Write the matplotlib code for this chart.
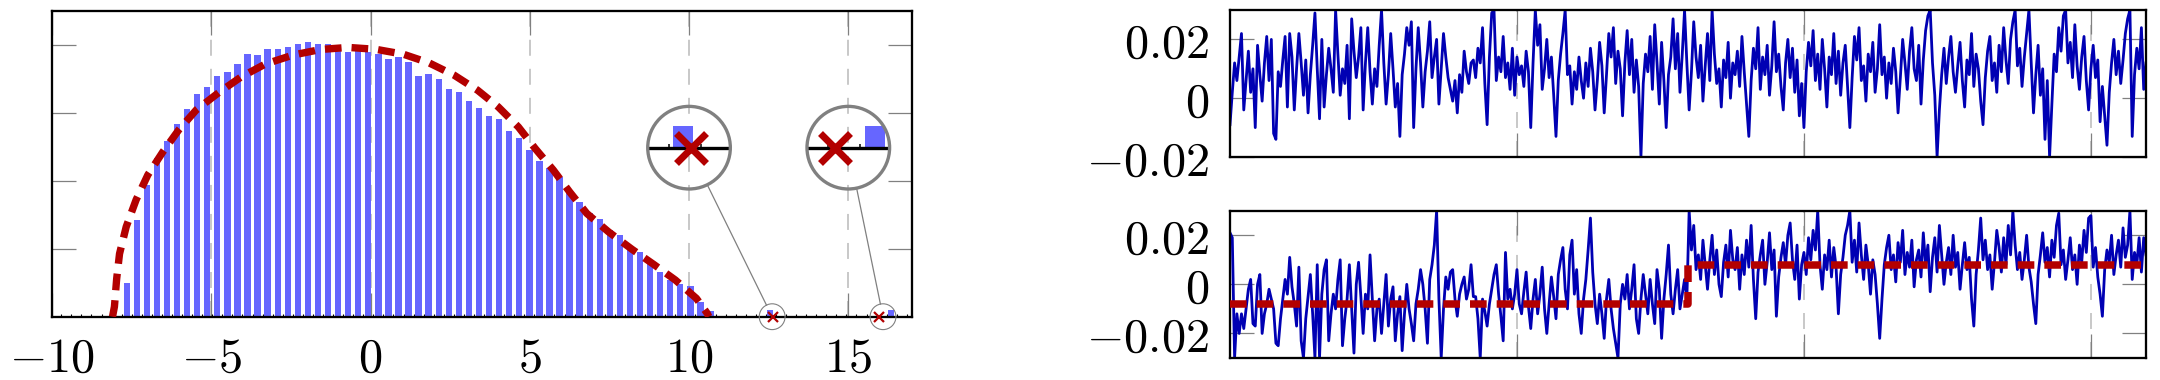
import numpy as np
import matplotlib
matplotlib.use("Agg")
import matplotlib.pyplot as plt
from matplotlib.patches import Circle, Ellipse
from matplotlib.lines import Line2D
from matplotlib.ticker import FixedLocator

plt.rcParams['mathtext.fontset'] = 'cm'
plt.rcParams['lines.scale_dashes'] = False
plt.rcParams['font.family'] = ['DejaVu Sans']

# ---------------- data ----------------
# histogram (left panel): first bin centre, bin spacing and bar heights
hist_first = -7.654
hist_step = 0.316
hist_counts = [24.8, 71.1, 97.1, 116.9, 129.2, 141.7, 152.7, 163.8, 168.9, 177.0,
               179.9, 185.8, 193.2, 192.6, 196.8, 196.8, 198.3, 200.5, 202.0, 200.5,
               200.5, 198.3, 194.9, 199.8, 194.6, 193.4, 189.5, 191.0, 187.3, 177.0,
               178.5, 174.8, 167.4, 165.2, 158.6, 153.5, 147.6, 145.4, 136.5, 131.4,
               122.6, 114.5, 109.1, 102.7, 90.7, 84.3, 76.0, 71.8, 63.8, 60.1,
               51.5, 47.6, 39.7, 32.9, 27.0, 24.3, 22.6, 11.0, 4.2]
# limiting density (red dashed)
pdf_x = [-8.10, -8.04, -7.97, -7.88, -7.67, -7.36, -6.99, -6.52, -6.02, -5.47,
         -4.74, -4.06, -3.30, -2.43, -1.56, -0.70, 0.17, 1.03, 1.84, 2.63,
         3.36, 4.01, 4.64, 5.17, 5.74, 6.25, 6.79, 7.47, 8.21, 8.89,
         9.57, 10.23, 10.57, 10.62]
pdf_y = [0.0, 7.4, 27.9, 46.3, 66.2, 86.0, 104.4, 121.3, 137.5, 152.2,
         165.4, 176.5, 186.0, 192.6, 196.7, 198.2, 196.8, 193.2, 186.8, 177.7,
         166.7, 154.4, 139.7, 123.8, 107.9, 91.9, 76.0, 62.5, 49.6, 38.5,
         27.0, 13.5, 2.5, 0.0]
# isolated eigenvalues: empirical (bars) and predicted (crosses)
outlier_emp_x = [12.55, 16.35]
outlier_emp_h = [5.0, 5.0]
outlier_pred_x = [12.63, 15.96]
# magnifier: spied points and where the magnified view is placed
spy_src_x = [12.61, 16.09]
spy_dst_x = [10.0, 15.0]
spy_dst_y = [124.4, 124.4]
hist_xticks = [-10, -5, 0, 5, 10, 15]
hist_yticks = [50, 100, 150, 200]

# time series (right panels), in units of 1e-3
sig_top = [
    -9, 2, 12, 6, 14, 22, -4, 6, 16, 2, 10, -10, 18, 8, -1, 12, 21, 6, 20, -12,
    -14, 9, 4, 13, 21, -3, 22, 14, -4, 10, 22, 12, 1, 13, -5, 8, 18, 29, 10, -7,
    20, -3, 8, 17, 10, 2, 30, 15, 1, 10, 5, 18, -7, 27, 16, 7, 14, 24, -4, 12,
    24, 9, -2, 10, 4, 18, 30, 12, -2, 8, 22, 10, -3, 5, -13, 8, 15, 24, 18, 26,
    -10, 10, 24, 12, -3, 9, 16, 26, 7, 14, 20, -2, 10, 22, 14, 7, 3, -1, 6, -5,
    8, 2, 16, 9, 5, 12, 13, 7, 17, 12, 24, 5, -9, 14, 29, 30, 6, 14, 9, 21,
    7, 12, 3, 17, 1, 14, 8, 11, 4, 16, 9, -10, 12, 30, 18, 25, 3, 10, 20, 7,
    14, 1, -13, 6, 15, 22, 30, 8, 11, -2, 9, 3, 14, 6, 0, 12, 4, 17, 9, -4,
    6, 19, 11, -5, 8, 22, 14, 24, 5, 16, 10, -6, 12, 23, 8, 20, 2, 13, 4, -20,
    5, 15, 9, 21, 3, 25, 12, -2, 19, 6, -10, 8, 14, 27, 10, 22, 2, 15, 30, 12,
    -4, 9, 26, 14, 7, 18, -1, 11, 22, 6, 30, 15, 5, 10, -3, 13, 7, 19, 0, 12,
    8, 16, 4, 21, 9, -2, -13, 6, 17, 10, 24, 3, 14, 8, 18, 1, 11, 26, 9, 15,
    4, -4, 12, 20, 7, 17, 2, 13, -6, 5, -10, 9, 19, 11, 23, 6, 15, 3, 20, 10,
    -3, 14, 8, 22, 5, 16, 1, 12, 18, 4, -10, 7, 21, 13, 24, 6, 11, -1, 15, 9,
    19, 2, 10, 25, 8, 14, 0, 12, 5, 17, 9, -5, 7, 20, 12, 3, 16, 24, 10, 6,
    18, -2, 13, 23, 28, 30, 12, 1, -20, -4, 8, 17, 5, 14, 21, 9, 2, 11, 19, 6,
    -3, 13, 8, 22, 4, 15, 10, -1, -9, 7, 16, 21, 6, 12, 2, 18, 9, 24, 13, 5,
    20, 26, 30, 11, 17, 4, 14, 22, 30, 12, -5, 8, 18, 1, 10, -14, 6, -20, -2, 15,
    9, 24, 16, 28, 30, 12, 19, 7, 25, 11, 3, 14, 21, 6, -4, 10, 18, 7, 13, -8,
    4, -6, -16, 2, 12, 20, 8, 16, 5, 13, 22, 27, 30, -13, 8, 17, 10, 24, 3, 12]
sig_bot = [
    21, 19, -30, -12, -20, -12, -18, -10, -2, 2, -16, -17, 0, 4, -20, -12, -8, -2, -6, -10,
    -24, -25, -14, -6, 2, -4, 11, -1, -8, -17, 7, -23, -30, -14, -5, 4, -12, -30, 8, -30,
    -4, 6, 10, -23, -12, -4, -10, 2, 10, -25, -14, -6, 8, -10, -28, 0, 9, -5, -20, -4,
    -10, 12, -6, -23, -10, -6, -20, -8, 4, -17, -6, -1, -23, -12, -5, -27, -12, 0, -10, -16,
    -23, -8, -2, 6, 0, -10, -24, 2, 8, 16, 30, -6, -30, -10, 3, -2, 5, 6, -6, -13,
    -4, 0, 3, -6, -2, 8, -5, -5, -14, -30, -6, -11, -17, -8, -2, 4, 8, -4, -13, -23,
    13, -6, -2, -10, -4, 6, -8, -12, -3, 5, -9, -18, -6, 2, -12, -4, 7, -10, -20, -8,
    3, -5, -14, 4, 10, 15, -2, -10, 12, 18, -4, 6, -12, -20, -6, 2, 14, 27, 5, -8,
    -16, -4, -12, -22, -6, 2, -10, -18, -24, -30, -8, 0, -6, 4, -10, -2, 8, -14, -20, -6,
    4, -4, -12, 2, -8, -16, 6, -2, -22, -6, 4, 16, -4, -12, -2, 6, -10, -4, 2, -6,
    30, 14, 24, 6, 12, 2, 18, 8, -2, 10, 20, 4, 14, 0, -5, 9, 16, 3, 22, 10,
    6, 15, -2, 12, 4, 18, 7, 24, 2, -14, 5, 12, 18, 0, 9, 21, 6, 14, -13, 3,
    11, 17, 8, 20, 25, 10, 2, 16, -6, 8, 13, 4, 19, 10, 22, 14, 30, 8, -2, 12,
    6, 18, 3, 15, 7, -12, 4, 11, 20, 24, 30, 9, 18, 5, 25, 12, 2, 16, 8, -4,
    10, 4, -8, -22, -6, 8, 15, 20, 6, 12, 1, 17, 9, 22, 4, 13, 7, 18, -1, 10,
    14, 3, 21, 8, 16, -3, 11, 19, 5, 24, 12, 0, 9, 15, 4, 20, 7, 13, -2, 8,
    17, 6, 11, -6, -17, 4, 14, 27, 10, 18, 6, 12, -2, 9, 22, 15, 5, 19, 8, 24,
    12, 30, 16, 6, 13, 2, 10, 20, 7, 1, -8, -16, 4, 12, 21, 9, 15, 3, 18, 11,
    24, 29, 8, 14, 2, 10, 19, 6, 12, 0, 16, 9, 22, 13, 27, 28, 7, 15, 3, -4,
    -13, 6, 14, 9, 20, 4, 12, 18, 7, 23, 11, 16, 30, 2, 13, 8, 19, 5, 19, 12]
sig_scale = 1e-3
level_values = [-0.008, 0.008]     # piecewise-constant mean (red dashed)
change_index = 199.5
ts_yticks = [-0.02, 0, 0.02]
ts_yticklabels = ['$-0.02$', '$0$', '$0.02$']

# ---------------- style ----------------
W, H = 2160, 380
BAR = '#6666ff'
RED = '#b30000'
NAVY = '#0000b3'
GRAYT = '#808080'
GRID = '#bfbfbf'
FS = 34.8
DASH_RED = (0, (12, 7.2))
DASH_GRID = (0, (11.5, 9.4))
SPINE_LW = 1.65

fig = plt.figure(figsize=(W / 100, H / 100), dpi=100)


def style_axes(a):
    for s in a.spines.values():
        s.set_linewidth(SPINE_LW)
        s.set_color('black')
    a.set_axisbelow(True)
    a.tick_params(axis='both', which='major', direction='in', length=17.3,
                  width=0.9, color=GRAYT, top=True, right=True,
                  labelsize=FS, labelcolor='black')
    a.xaxis.grid(True, which='major', color=GRID, lw=1.2, linestyle=DASH_GRID)


# ---------------- left panel ----------------
ax = fig.add_axes([52 / W, (H - 316.7) / H, 860 / W, 305.7 / H])
style_axes(ax)
centers = hist_first + hist_step * np.arange(len(hist_counts))
bar_w = 0.2
ax.bar(centers, hist_counts, width=bar_w, color=BAR, zorder=1.5, linewidth=0)
ax.bar(outlier_emp_x, outlier_emp_h, width=bar_w, color=BAR, zorder=1.5, linewidth=0)
ax.plot(pdf_x, pdf_y, color=RED, lw=5.3, linestyle=DASH_RED,
        dash_capstyle='butt', zorder=3)
ax.plot(outlier_pred_x, np.zeros(len(outlier_pred_x)), ls='none', marker='x',
        ms=6.5, mew=1.6, color=RED, clip_on=False, zorder=4)
ax.set_xlim(-10, 17)
ax.set_ylim(0, 225)
ax.set_xticks(hist_xticks, labels=[f'${v}$' for v in hist_xticks])
ax.set_yticks(hist_yticks)
ax.tick_params(axis='y', labelleft=False)
ax.tick_params(axis='x', which='major', pad=13)
edges = hist_first - hist_step / 2 + hist_step * np.arange(-7, 80)
edges = edges[(edges > -10) & (edges < 17)]
ax.xaxis.set_minor_locator(FixedLocator(edges))
ax.tick_params(axis='x', which='minor', direction='in', length=2.4, width=0.8,
               color='black', top=False)

# magnified views (spy)
R_big = 41.3
mag = 3.2
r_small = R_big / mag
o = ax.transData.transform((0, 0))
sx = ax.transData.transform((1, 0))[0] - o[0]
sy = ax.transData.transform((0, 1))[1] - o[1]
for srcx, dx, dy in zip(spy_src_x, spy_dst_x, spy_dst_y):
    cs = ax.transData.transform((srcx, 0))
    cd = ax.transData.transform((dx, dy))
    axi = fig.add_axes([(cd[0] - R_big) / W, (cd[1] - R_big) / H,
                        2 * R_big / W, 2 * R_big / H])
    axi.set_xlim(srcx - r_small / sx, srcx + r_small / sx)
    axi.set_ylim(-r_small / sy, r_small / sy)
    axi.axis('off')
    axi.patch.set_visible(False)
    clip = Circle((0.5, 0.5), 0.5, transform=axi.transAxes)
    arts = []
    arts += list(axi.bar(centers, hist_counts, width=bar_w, color=BAR, linewidth=0))
    arts += list(axi.bar(outlier_emp_x, outlier_emp_h, width=bar_w, color=BAR, linewidth=0))
    arts.append(axi.axhline(0, color='black', lw=2.4, zorder=3))
    tick_h = 4.0 / (sy * mag)
    arts.append(axi.vlines(edges, 0, tick_h, color='black', lw=1.1, zorder=3))
    arts += axi.plot(outlier_pred_x, np.zeros(len(outlier_pred_x)), ls='none',
                     marker='x', ms=21.6, mew=5.0, color=RED, zorder=4)
    for a_ in arts:
        a_.set_clip_path(clip)
    axi.add_patch(Circle((0.5, 0.5), 0.5, transform=axi.transAxes, fill=False,
                         ec=GRAYT, lw=2.4, clip_on=False, zorder=5))
    ax.add_patch(Ellipse((srcx, 0), 2 * r_small / sx, 2 * r_small / sy, fill=False,
                         ec=GRAYT, lw=0.8, clip_on=False, zorder=5))
    v = cs - cd
    u = v / np.hypot(*v)
    p1 = cd + u * R_big
    p2 = cs - u * r_small
    fig.add_artist(Line2D([p1[0] / W, p2[0] / W], [p1[1] / H, p2[1] / H],
                          transform=fig.transFigure, color=GRAYT, lw=0.9))

# ---------------- right panels ----------------
n = len(sig_top)
idx = np.arange(n)
ts_xticks_pos = [125, 250, 375]

ax2 = fig.add_axes([1230 / W, (H - 157) / H, 916 / W, 147 / H])
style_axes(ax2)
ax2.plot(idx, np.array(sig_top) * sig_scale, color=NAVY, lw=2.0, zorder=2)
ax2.set_xlim(0, n - 1)
ax2.set_ylim(-0.02, 0.03)

ax3 = fig.add_axes([1230 / W, (H - 358) / H, 916 / W, 147.3 / H])
style_axes(ax3)
ax3.plot(idx, np.array(sig_bot) * sig_scale, color=NAVY, lw=2.0, zorder=2)
step_x = [0, change_index, change_index, n - 1]
step_y = [level_values[0], level_values[0], level_values[1], level_values[1]]
ax3.plot(step_x, step_y, color=RED, lw=5.4, linestyle=DASH_RED,
         dash_capstyle='butt', zorder=3)
ax3.set_xlim(0, n - 1)
ax3.set_ylim(-0.03, 0.03)

for a in (ax2, ax3):
    a.set_xticks(ts_xticks_pos)
    a.tick_params(axis='x', labelbottom=False)
    a.set_yticks(ts_yticks, labels=ts_yticklabels)
    a.tick_params(axis='y', pad=15)

fig.savefig('out.png', dpi=100)
